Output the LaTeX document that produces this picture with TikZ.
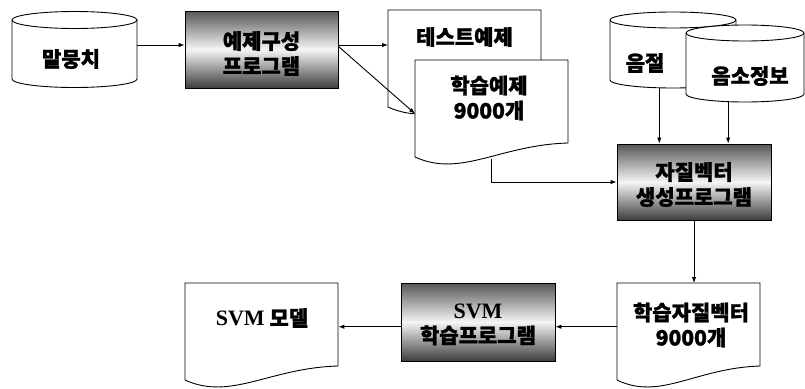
\documentclass[tikz,border=0pt]{standalone}
\usepackage{fontspec}
\newfontfamily\kr{Noto Sans CJK KR}[BoldFeatures={FakeBold=1.3}]
\newfontfamily\lat{Liberation Serif}
\newcommand\svmfont{\lat\bfseries\fontsize{22}{25}\selectfont}
\usetikzlibrary{arrows.meta,calc}
\tikzset{
 ln/.style={line width=0.9pt, draw=black},
 arr/.style={ln, -{Latex[length=6pt,width=4.5pt]}},
 prog/.style={ln, top color=black!66, bottom color=black!76, middle color=black!4, inner sep=0pt},
 txt/.style={font=\kr\bfseries\fontsize{21}{25}\selectfont, align=center, inner sep=0pt},
 hit/.style={inner sep=0pt, draw=none},
}
\newcommand\docshape[3]{\draw[ln, fill=white] (#1,#2) -- ({#1+#3},#2) -- ({#1+#3},{#2+83}) .. controls ({#1+0.55*#3},{#2+85}) and ({#1+0.3*#3},{#2+118}) .. (#1,{#2+97}) -- cycle;}
\newcommand\cylshape[5]{%
 \draw[ln, fill=white] (#1,#3) -- (#1,#4) arc[start angle=180, end angle=0, x radius={(#2-#1)/2}, y radius=#5] -- (#2,#3) arc[start angle=0, end angle=-180, x radius={(#2-#1)/2}, y radius=#5] -- cycle;
 \draw[ln] (#1,#3) arc[start angle=180, end angle=0, x radius={(#2-#1)/2}, y radius=#5];}
\begin{document}
\begin{tikzpicture}[x=1pt,y=-1pt]
\useasboundingbox (0,0) rectangle (805,388);
% corpus
\cylshape{12}{137}{20}{79}{8.5}
\node[hit, minimum width=125pt, minimum height=68pt] (malc) at (74.5,45) {};
\node[txt] (malt) at (71,59) {말뭉치};
% example builder
\node[prog, minimum width=153pt, minimum height=77pt] (prog1) at (261.5,49.5) {};
\node[txt] (prog1t) at (261.5,53.5) {예제구성\\프로그램};
% test doc
\docshape{388}{10}{153}
\node[hit, anchor=north west, minimum width=153pt, minimum height=99pt] (test) at (388,10) {};
\node[txt] (testt) at (464.5,37) {테스트예제};
% learn doc
\docshape{415}{60}{153}
\node[hit, anchor=north west, minimum width=153pt, minimum height=99pt] (learn) at (415,60) {};
\node[txt] (learnt) at (489,98) {학습예제\\9000개};
% syllable
\cylshape{610}{736}{20}{80}{8}
\node[hit, anchor=north west, minimum width=126pt, minimum height=68pt] (syl) at (610,20) {};
\node[txt] (sylt) at (645,63) {음절};
% phoneme
\cylshape{686}{804}{33}{94}{8}
\node[hit, anchor=north west, minimum width=118pt, minimum height=69pt] (pho) at (686,33) {};
\node[txt] (phot) at (750,76) {음소정보};
% feature program
\node[prog, minimum width=154pt, minimum height=76pt] (feat) at (694,182) {};
\node[txt] (featt) at (694,184.5) {자질벡터\\생성프로그램};
% feature vectors doc
\docshape{617}{283}{143}
\node[hit, anchor=north west, minimum width=143pt, minimum height=99pt] (fv) at (617,283) {};
\node[txt] (fvt) at (691,325) {학습자질벡터\\9000개};
% svm program
\node[prog, minimum width=154pt, minimum height=78pt] (svmp) at (478,322) {};
\node[txt] (svmpt) at (478,324.5) {{\svmfont SVM}\\학습프로그램};
% model doc
\docshape{185}{283}{153}
\node[hit, anchor=north west, minimum width=153pt, minimum height=99pt] (model) at (185,283) {};
\node[txt] (modelt) at (262,318) {{\svmfont SVM} 모델};
% connectors
\draw[arr] (malc.east) -- (malc.east -| prog1.west);
\draw[arr] (malc.east -| prog1.east) -- (malc.east -| test.west);
\draw[arr] ($(prog1.north east)!0.46!(prog1.south east)$) -- ($(learn.north west)!0.54!(learn.south west)$);
\draw[arr] (learn.south) -- (learn.south |- feat.west) -- (feat.west);
\coordinate (sylout) at ($(syl.south west)!0.39!(syl.south east)$);
\draw[arr] (sylout) -- (sylout |- feat.north);
\coordinate (phoout) at ($(pho.south west)!0.356!(pho.south east)$);
\draw[arr] (phoout) -- (phoout |- feat.north);
\draw[arr] (feat.south) -- (feat.south |- fv.north);
\coordinate (fvin) at ($(fv.north west)!0.44!(fv.south west)$);
\draw[arr] (fvin) -- (fvin -| svmp.east);
\draw[arr] (fvin -| svmp.west) -- (fvin -| model.east);
\end{tikzpicture}
\end{document}
